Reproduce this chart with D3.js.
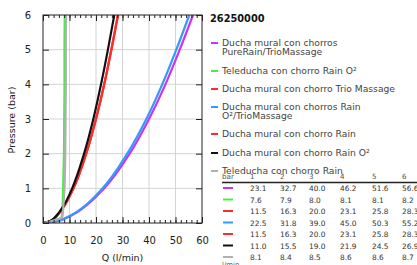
<!DOCTYPE html>
<html>
<head>
<meta charset="utf-8">
<script src="https://cdn.jsdelivr.net/npm/d3@7"></script>
<style>
body { margin: 0; background: #fff; }
svg { font-family: "DejaVu Sans", sans-serif; }
</style>
</head>
<body>
<svg id="chart" width="417" height="265"></svg>
<script>
var svg = d3.select('#chart');

var title = "26250000";
var names = ["Ducha mural con chorros|PureRain/TrioMassage", "Teleducha con chorro Rain O²",
    "Ducha mural con chorro Trio Massage", "Ducha mural con chorros Rain|O²/TrioMassage",
    "Ducha mural con chorro Rain", "Ducha mural con chorro Rain O²", "Teleducha con chorro Rain"];
var colors = ["#cc33ee", "#44ee44", "#ff2a2a", "#3399ff", "#ff2a2a", "#111111", "#b0b0b0"];

// pressure levels (bar) for each curve, and the flow (l/min)
var pSqrt = [0, 0.05, 0.15, 0.3, 0.5, 1, 2, 3, 4, 5, 6];
var pLim = [0, 0.05, 0.1, 0.15, 0.3, 0.5, 1, 2, 3, 4, 5, 6];
var qPurple = [0, 5.2, 8.9, 12.7, 16.3, 23.1, 32.7, 40.0, 46.2, 51.6, 56.6];
var qGreen = [0, 3.0, 5.0, 7.0, 7.3, 7.4, 7.6, 7.9, 8.0, 8.1, 8.1, 8.2];
var qRed = [0, 2.6, 4.5, 6.3, 8.1, 11.5, 16.3, 20.0, 23.1, 25.8, 28.3];
var qBlue = [0, 5.0, 8.7, 12.3, 15.9, 22.5, 31.8, 39.0, 45.0, 50.3, 55.2];
var qRed2 = [0, 2.6, 4.5, 6.3, 8.1, 11.5, 16.3, 20.0, 23.1, 25.8, 28.3];
var qBlack = [0, 2.5, 4.3, 6.0, 7.8, 11.0, 15.5, 19.0, 21.9, 24.5, 26.9];
var qGray = [0, 3.0, 5.2, 7.2, 7.5, 7.7, 8.1, 8.4, 8.5, 8.6, 8.6, 8.7];

var tableHead = ["bar", "1", "2", "3", "4", "5", "6"];
var tableRows = [
    ["23.1", "32.7", "40.0", "46.2", "51.6", "56.6"],
    ["7.6", "7.9", "8.0", "8.1", "8.1", "8.2"],
    ["11.5", "16.3", "20.0", "23.1", "25.8", "28.3"],
    ["22.5", "31.8", "39.0", "45.0", "50.3", "55.2"],
    ["11.5", "16.3", "20.0", "23.1", "25.8", "28.3"],
    ["11.0", "15.5", "19.0", "21.9", "24.5", "26.9"],
    ["8.1", "8.4", "8.5", "8.6", "8.6", "8.7"]
];

var series = [
    {p: pSqrt, q: qPurple}, {p: pLim, q: qGreen}, {p: pSqrt, q: qRed}, {p: pSqrt, q: qBlue},
    {p: pSqrt, q: qRed2}, {p: pSqrt, q: qBlack}, {p: pLim, q: qGray}
];

var x = d3.scaleLinear().domain([0, 60]).range([43, 202]);
var y = d3.scaleLinear().domain([0, 6]).range([223, 15]);

// grid
svg.append("g").selectAll("line").data(d3.range(10, 60, 10)).enter().append("line")
    .attr("x1", x).attr("x2", x).attr("y1", y(0)).attr("y2", y(6))
    .attr("stroke", "#d4d4d4").attr("stroke-width", 1);
svg.append("g").selectAll("line").data(d3.range(1, 6)).enter().append("line")
    .attr("x1", x(0)).attr("x2", x(60)).attr("y1", y).attr("y2", y)
    .attr("stroke", "#d4d4d4").attr("stroke-width", 1);

// curves
svg.append("clipPath").attr("id", "clip").append("rect")
    .attr("x", x(0)).attr("y", y(6)).attr("width", x(60) - x(0)).attr("height", y(0) - y(6));

var line = d3.line()
    .x(function(d) { return x(d[0]); })
    .y(function(d) { return y(d[1]); })
    .curve(d3.curveMonotoneY);

svg.append("g").attr("clip-path", "url(#clip)").selectAll("path").data(series).enter().append("path")
    .attr("d", function(s) { return line(s.p.map(function(p, i) { return [s.q[i], p]; })); })
    .attr("fill", "none")
    .attr("stroke", function(s, i) { return colors[i]; })
    .attr("stroke-width", 2.2);

// axes, ticks pointing inward
function styleAxis(g) {
    g.select(".domain").remove();
    g.selectAll("text").attr("font-size", 10).attr("fill", "#222").attr("font-family", "DejaVu Sans");
    g.selectAll("line").attr("stroke", "#222");
}
svg.append("g").attr("transform", "translate(0," + y(0) + ")")
    .call(d3.axisBottom(x).tickValues(d3.range(0, 61, 2)).tickSizeInner(-3).tickFormat(""))
    .call(styleAxis);
svg.append("g").attr("transform", "translate(0," + y(0) + ")")
    .call(d3.axisBottom(x).tickValues(d3.range(0, 61, 10)).tickSizeInner(-6).tickPadding(14))
    .call(styleAxis);
svg.append("g").attr("transform", "translate(0," + y(6) + ")")
    .call(d3.axisTop(x).tickValues(d3.range(0, 61, 2)).tickSizeInner(-3).tickFormat(""))
    .call(styleAxis);
svg.append("g").attr("transform", "translate(0," + y(6) + ")")
    .call(d3.axisTop(x).tickValues(d3.range(0, 61, 10)).tickSizeInner(-6).tickFormat(""))
    .call(styleAxis);
svg.append("g").attr("transform", "translate(" + x(0) + ",0)")
    .call(d3.axisLeft(y).ticks(6).tickSizeInner(-6).tickPadding(12))
    .call(styleAxis);
svg.append("g").attr("transform", "translate(" + x(60) + ",0)")
    .call(d3.axisRight(y).ticks(6).tickSizeInner(-6).tickFormat(""))
    .call(styleAxis);

svg.append("rect").attr("x", x(0)).attr("y", y(6)).attr("width", x(60) - x(0)).attr("height", y(0) - y(6))
    .attr("fill", "none").attr("stroke", "#222").attr("stroke-width", 1);

svg.append("text").attr("x", (x(0) + x(60)) / 2).attr("y", 261).attr("text-anchor", "middle")
    .attr("font-size", 9.5).attr("fill", "#222").text("Q (l/min)");
svg.append("text").attr("transform", "translate(15,120) rotate(-90)").attr("text-anchor", "middle")
    .attr("font-size", 9.5).attr("fill", "#222").text("Pressure (bar)");

// legend
svg.append("text").attr("x", 210).attr("y", 22).attr("font-size", 9.8).attr("font-weight", "bold")
    .attr("fill", "#111").text(title);

var legendY = [43, 71, 89, 107, 134, 153, 171];
var eachlegend = svg.selectAll(".legendc").data(names).enter().append("g").attr("class", "legendc");
eachlegend.append("line")
    .attr("x1", 211).attr("x2", 218)
    .attr("y1", function(d, i) { return legendY[i]; }).attr("y2", function(d, i) { return legendY[i]; })
    .attr("stroke", function(d, i) { return colors[i]; }).attr("stroke-width", 2);
eachlegend.append("text")
    .attr("x", 222).attr("y", function(d, i) { return legendY[i] + 3; })
    .attr("font-size", 9.2).attr("fill", "#444")
    .selectAll("tspan").data(function(d) { return d.split("|"); }).enter().append("tspan")
    .attr("x", 222).attr("dy", function(d, j) { return j == 0 ? 0 : 9; })
    .text(function(d) { return d; });

// table
var colX = [222, 250, 280, 309, 340, 372, 402];
svg.append("g").selectAll("text").data(tableHead).enter().append("text")
    .attr("x", function(d, i) { return colX[i]; }).attr("y", 179)
    .attr("font-size", 7.2).attr("fill", "#555").text(function(d) { return d; });
svg.append("line").attr("x1", 222).attr("x2", 417).attr("y1", 182.5).attr("y2", 182.5)
    .attr("stroke", "#222").attr("stroke-width", 1.5);

var rowY = [191, 202.5, 214, 225.5, 237, 248.5, 260];
var rows = svg.append("g").selectAll("g").data(tableRows).enter().append("g");
rows.append("line").attr("x1", 223).attr("x2", 233)
    .attr("y1", function(d, i) { return rowY[i] - 3; }).attr("y2", function(d, i) { return rowY[i] - 3; })
    .attr("stroke", function(d, i) { return colors[i]; }).attr("stroke-width", 2);
rows.each(function(r, i) {
    d3.select(this).selectAll("text").data(r).enter().append("text")
        .attr("x", function(d, j) { return colX[j + 1]; }).attr("y", rowY[i])
        .attr("font-size", 7.4).attr("fill", "#333").text(function(d) { return d; });
});
svg.append("text").attr("x", 222).attr("y", 267).attr("font-size", 7).attr("fill", "#666").text("l/min");
</script>
</body>
</html>
